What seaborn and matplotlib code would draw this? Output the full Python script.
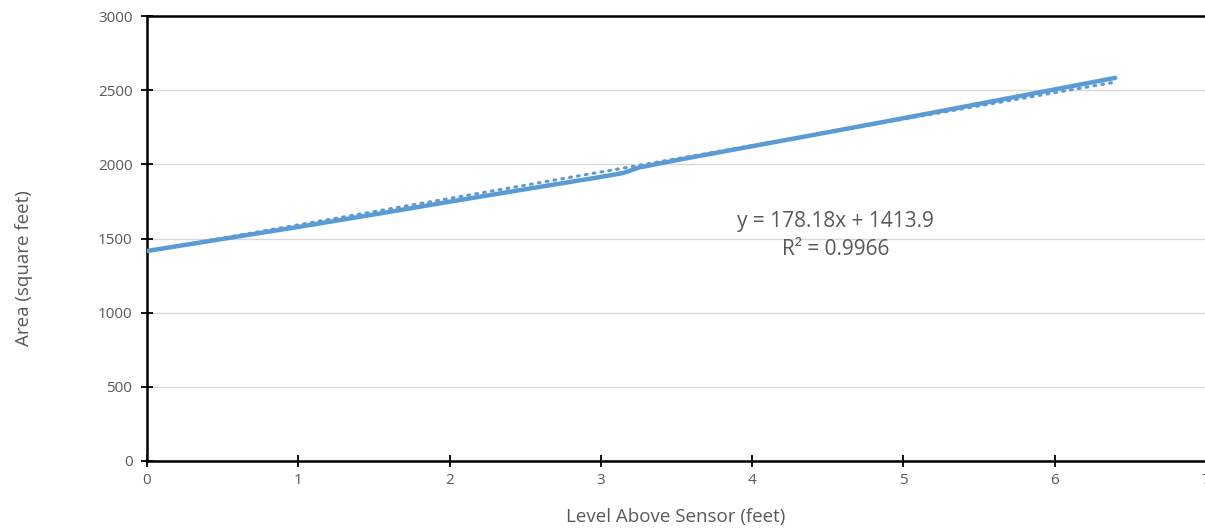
import matplotlib
matplotlib.use("Agg")
import matplotlib.pyplot as plt
import numpy as np
import pandas as pd
import seaborn as sns

# Data
level_ft = [0, 0.5, 1, 1.5, 2, 2.5, 3, 3.15, 3.25, 3.5, 4, 4.5, 5, 5.5, 6, 6.4]
area_sqft = [1416, 1497, 1578, 1662, 1748, 1832, 1915, 1942, 1978, 2028, 2122, 2216, 2311, 2408, 2505, 2583]
trend_slope = 178.18
trend_intercept = 1413.9
r_squared = 0.9966
x_ticks = [0, 1, 2, 3, 4, 5, 6, 7]
y_ticks = [0, 500, 1000, 1500, 2000, 2500, 3000]

BLUE = "#5B9BD5"
GREY_TEXT = "#595959"

sns.set_theme(style="white")
plt.rcParams["font.family"] = ["Open Sans", "DejaVu Sans"]

df = pd.DataFrame({"level": level_ft, "area": area_sqft})

fig = plt.figure(figsize=(12.05, 5.32), dpi=100)
ax = fig.add_axes([147 / 1205, 71 / 532, 1059 / 1205, 445 / 532])

# trendline (dotted), drawn under the data line
trend_x = np.array([level_ft[0], level_ft[-1]])
ax.plot(trend_x, trend_slope * trend_x + trend_intercept, color=BLUE,
        lw=2.2, ls=(0, (0.6, 2.0)), dash_capstyle="round", zorder=2)
sns.lineplot(data=df, x="level", y="area", color=BLUE, lw=3.2, ax=ax, zorder=3,
             solid_capstyle="round")

ax.set_xlim(0, 7)
ax.set_ylim(0, 3000)
ax.set_xticks(x_ticks)
ax.set_yticks(y_ticks)
ax.grid(axis="y", color="#D9D9D9", lw=1.0)
ax.grid(axis="x", visible=False)

for side in ["left", "bottom", "top"]:
    ax.spines[side].set_visible(True)
    ax.spines[side].set_color("black")
    ax.spines[side].set_linewidth(1.8)
ax.spines["right"].set_visible(False)

ax.tick_params(axis="both", direction="inout", length=9, width=1.3, color="black",
               labelsize=11, labelcolor=GREY_TEXT, pad=4, left=True, bottom=True)
ax.tick_params(axis="y", pad=6)

ax.set_xlabel("Level Above Sensor (feet)", fontsize=13.5, color=GREY_TEXT)
ax.set_ylabel("Area (square feet)", fontsize=13.5, color=GREY_TEXT)
ax.xaxis.set_label_coords((676 - 147) / 1059, -(508 - 461) / 445)
ax.yaxis.set_label_coords(-(147 - 33) / 1059, (461 - 268) / 445)

ax.text(4.55, 1520, f"y = {trend_slope}x + {trend_intercept}\nR² = {r_squared}",
        ha="center", va="center", fontsize=15, color=GREY_TEXT, linespacing=1.4)

fig.savefig("out.png", dpi=100)
